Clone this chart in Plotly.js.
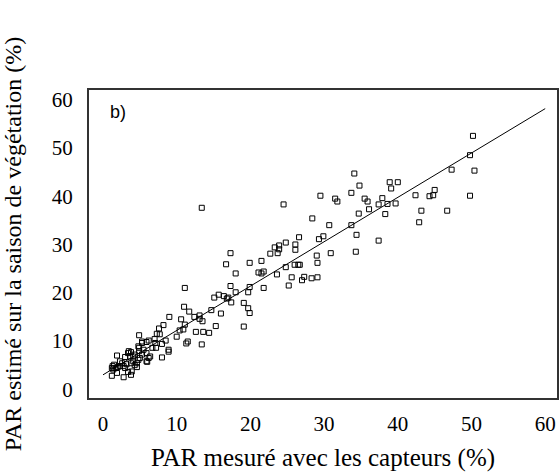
<!DOCTYPE html>
<html>
<head>
<meta charset="utf-8">
<script src="https://cdn.plot.ly/plotly-3.0.1.min.js"></script>
<style>html,body{margin:0;padding:0;background:#fff;}#chart{width:560px;height:473px;}</style>
</head>
<body>
<div id="chart"></div>
<script>
// Measured PAR (%) — x values
const measured = [
13.4,24.5,28.4,29.5,26.6,24.8,23.3,23.9,23.9,26.1,26.1,29.3,29.0,22.7,23.7,17.3,
50.2,49.8,47.3,50.4,34.1,34.8,33.7,31.5,31.8,35.5,35.9,36.1,34.7,37.4,37.9,38.6,39.7,38.3,38.9,40.0,39.1,
42.4,44.3,44.8,45.0,49.8,43.2,46.7,42.9,30.7,33.7,34.4,37.4,29.9,30.9,34.3,
29.1,26.7,27.0,27.3,28.3,29.1,
26.0,26.5,24.8,25.6,25.2,23.6,21.5,19.9,16.7,18.0,21.1,21.5,21.8,21.8,19.9,19.7,17.3,18.0,17.4,
16.8,17.0,16.4,15.7,15.1,19.1,19.7,19.9,19.1,14.7,16.0,15.3,
11.1,11.0,11.7,12.4,13.1,13.1,13.5,10.6,9.0,11.1,10.9,10.4,10.0,12.6,13.6,14.4,11.5,11.3,13.4,
8.2,7.6,7.3,7.7,8.5,4.9,5.3,5.9,6.2,7.0,7.1,6.7,7.2,8.0,8.9,8.9,8.0,6.4,6.2,5.9,6.0,
1.9,3.5,3.8,3.4,3.0,3.7,4.1,4.3,4.9,2.3,2.6,1.5,1.3,1.2,1.4,1.8,2.0,2.3,1.2,1.9,2.8,3.8,3.9,3.4,
4.3,4.6,4.6,4.8,5.0,5.3,4.1,3.8,3.2,2.8,3.0,5.3,4.9,5.5,5.9,4.8
];
// Estimated PAR over the growing season (%) — y values
const estimated = [
37.6,38.3,35.4,40.1,31.5,30.4,29.4,29.8,29.0,30.0,28.9,31.1,27.7,28.1,28.2,28.2,
52.5,48.5,45.5,45.3,44.7,42.2,40.7,39.5,38.9,39.5,38.9,37.3,36.4,38.3,39.6,38.4,38.5,36.3,42.9,42.9,41.6,
40.2,40.0,40.2,41.3,40.1,37.0,37.0,34.6,34.0,34.0,32.0,30.8,31.7,28.2,28.5,
26.2,25.8,22.6,23.3,23.0,23.2,
25.8,25.8,25.3,23.2,21.5,23.8,26.6,26.2,25.9,24.0,24.2,24.0,24.4,21.0,21.2,20.1,21.4,20.1,18.0,
18.8,19.0,19.3,19.6,19.0,17.9,16.8,15.8,13.0,16.4,15.7,13.1,
21.0,17.1,16.1,15.0,15.3,14.6,14.1,14.5,15.0,13.4,12.4,12.2,10.9,11.9,11.9,11.7,9.9,9.5,9.3,
13.3,12.6,11.5,11.4,10.1,11.2,9.9,9.8,10.1,10.4,9.6,8.6,8.6,9.4,8.2,7.8,6.6,6.8,6.5,5.8,5.7,
7.0,7.9,7.7,7.5,6.7,6.8,6.8,7.2,7.9,5.8,5.4,5.1,4.8,4.4,4.1,4.4,4.6,4.8,2.8,3.4,2.5,3.0,3.7,3.6,
5.0,4.6,5.4,6.1,6.5,7.2,5.8,5.4,5.2,4.8,4.4,9.6,8.6,8.2,7.5,8.9
];
// Regression line
const fitX = [0, 60];
const fitIntercept = 3.0;
const fitSlope = 0.919;
const fitY = fitX.map(v => fitIntercept + fitSlope * v);

const tickVals = [0, 10, 20, 30, 40, 50, 60];
const tickText = ["0", "10", "20", "30", "40", "50", "60"];

const serif = "Liberation Serif, Times New Roman, serif";

const traces = [
  {
    x: measured, y: estimated, type: "scatter", mode: "markers",
    marker: {symbol: "square-open", size: 5, color: "#000", line: {width: 1, color: "#000"}},
    hoverinfo: "x+y", showlegend: false
  },
  {
    x: fitX, y: fitY, type: "scatter", mode: "lines",
    line: {color: "#000", width: 1}, showlegend: false
  }
];

const layout = {
  width: 560, height: 473,
  margin: {l: 89, r: 3, t: 90, b: 75, pad: 0},
  paper_bgcolor: "#fff", plot_bgcolor: "#fff",
  showlegend: false,
  xaxis: {
    range: [-1.9, 61.6], tickvals: tickVals, ticktext: tickText,
    showgrid: false, zeroline: false, ticks: "",
    showline: true, mirror: true, linecolor: "#333", linewidth: 2,
    tickfont: {family: serif, size: 21, color: "#000"},
    ticklabelstandoff: 6,
    title: {text: "PAR mesuré avec les capteurs (%)", font: {family: serif, size: 25, color: "#000"}, standoff: 13}
  },
  yaxis: {
    range: [-1.8, 62], tickvals: tickVals, ticktext: tickText,
    showgrid: false, zeroline: false, ticks: "",
    showline: true, mirror: true, linecolor: "#333", linewidth: 2,
    tickfont: {family: serif, size: 21, color: "#000"},
    ticklabelstandoff: 10,
    title: {text: "PAR estimé sur la saison de végétation (%)", font: {family: serif, size: 24, color: "#000"}, standoff: 24}
  },
  annotations: [{
    xref: "paper", yref: "paper", x: 0.04, y: 0.93, xanchor: "left", yanchor: "middle",
    text: "b)", showarrow: false, font: {family: "Liberation Sans, Arial, sans-serif", size: 18, color: "#000"}
  }]
};

Plotly.newPlot("chart", traces, layout, {displayModeBar: false, staticPlot: true});
</script>
</body>
</html>
